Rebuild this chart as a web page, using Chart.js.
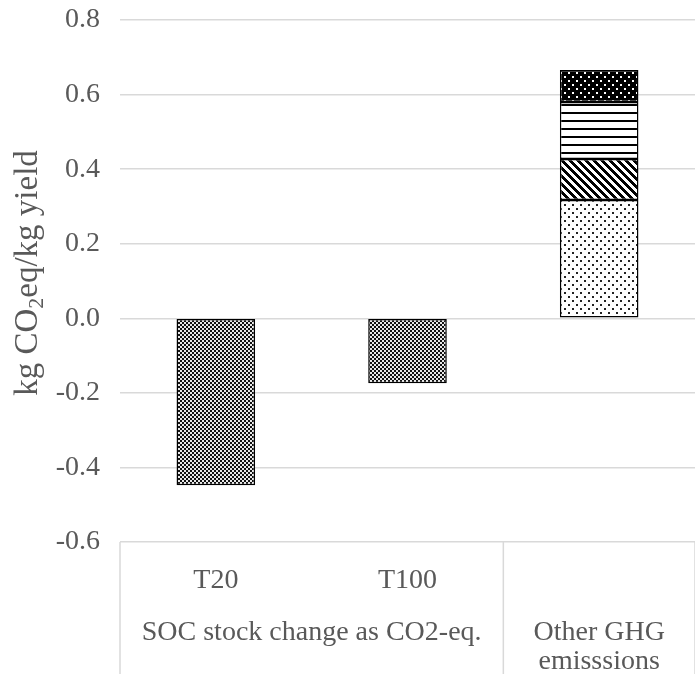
<!DOCTYPE html>
<html>
<head>
<meta charset="utf-8">
<script src="https://cdn.jsdelivr.net/npm/chart.js@4/dist/chart.umd.min.js"></script>
<style>
  html, body { margin: 0; padding: 0; background: #ffffff; }
  #wrap { width: 695px; height: 674px; position: relative; }
</style>
</head>
<body>
<div id="wrap"><canvas id="c"></canvas></div>
<script>
// Category labels (first level) and group labels (second level)
const categories = ['T20', 'T100', ''];
const groupSOC = 'SOC stock change as CO2-eq.';
const groupOther = ['Other GHG', 'emisssions'];

// SOC stock change expressed as CO2-eq (kg CO2eq / kg yield)
const socChange = [-0.448, -0.174, null];

// Other GHG emissions, stacked components
const otherPart1 = [null, null, 0.317];
const otherPart2 = [null, null, 0.110];
const otherPart3 = [null, null, 0.153];
const otherPart4 = [null, null, 0.086];

// Y axis range
const yMin = -0.6, yMax = 0.8, yStep = 0.2;

const TEXT = '#595959';
const GRID = '#d9d9d9';
const FONT = "'Liberation Serif', 'Times New Roman', serif";
const FS = 28;

function makePattern(size, draw) {
  const c = document.createElement('canvas');
  c.width = size; c.height = size;
  const g = c.getContext('2d');
  draw(g, size);
  return g.createPattern(c, 'repeat');
}
const checker = makePattern(4, (g) => {
  g.fillStyle = '#e8e8e8'; g.fillRect(0, 0, 4, 4);
  g.fillStyle = '#111'; g.fillRect(0, 0, 2, 2); g.fillRect(2, 2, 2, 2);
});
const dots = makePattern(8, (g) => {
  g.fillStyle = '#fff'; g.fillRect(0, 0, 8, 8);
  g.fillStyle = '#222'; g.fillRect(0, 0, 2, 2); g.fillRect(4, 4, 2, 2);
});
const diag = makePattern(8, (g, s) => {
  g.fillStyle = '#fff'; g.fillRect(0, 0, s, s);
  g.fillStyle = '#000';
  for (let x = 0; x < s; x++) for (let y = 0; y < s; y++) {
    if (((x - y + s) % s) < 4) g.fillRect(x, y, 1, 1);
  }
});
const hlines = makePattern(8, (g) => {
  g.fillStyle = '#fff'; g.fillRect(0, 0, 8, 8);
  g.fillStyle = '#000'; g.fillRect(0, 0, 8, 2);
});
const darkDots = makePattern(8, (g) => {
  g.fillStyle = '#000'; g.fillRect(0, 0, 8, 8);
  g.fillStyle = '#fff'; g.fillRect(0, 0, 2, 2); g.fillRect(4, 4, 2, 2);
});

function bar(data, fill) {
  return {
    data: data,
    backgroundColor: fill,
    borderColor: '#000',
    borderWidth: 1.5,
    borderSkipped: false,
    barPercentage: 0.41,
    categoryPercentage: 1.0,
    stack: 's'
  };
}

// Axis title with subscript, group labels and the category box lines
const decorations = {
  id: 'decorations',
  afterDraw(chart) {
    const ctx = chart.ctx;
    const area = chart.chartArea;
    const x = chart.scales.x;
    const H = chart.height;
    ctx.save();

    // category box
    ctx.strokeStyle = GRID;
    ctx.lineWidth = 1.5;
    const sep = (x.getPixelForTick(1) + x.getPixelForTick(2)) / 2;
    ctx.beginPath();
    ctx.moveTo(area.left, area.bottom); ctx.lineTo(area.left, H);
    ctx.moveTo(sep, area.bottom); ctx.lineTo(sep, H);
    ctx.moveTo(area.right, area.bottom); ctx.lineTo(area.right, H);
    ctx.stroke();

    // second-level labels
    ctx.fillStyle = TEXT;
    ctx.font = FS + 'px ' + FONT;
    ctx.textAlign = 'center';
    ctx.textBaseline = 'middle';
    const mid01 = (x.getPixelForTick(0) + x.getPixelForTick(1)) / 2;
    ctx.fillText(groupSOC, mid01, 633);
    ctx.fillText(groupOther[0], x.getPixelForTick(2), 633);
    ctx.fillText(groupOther[1], x.getPixelForTick(2), 662);

    // rotated y title: kg CO2eq/kg yield
    const cy = (area.top + area.bottom) / 2 - 8;
    ctx.translate(27, cy);
    ctx.rotate(-Math.PI / 2);
    const big = 33, small = 22;
    const p1 = 'kg CO', p2 = '2', p3 = 'eq/kg yield';
    ctx.font = big + 'px ' + FONT;
    const w1 = ctx.measureText(p1).width;
    const w3 = ctx.measureText(p3).width;
    ctx.font = small + 'px ' + FONT;
    const w2 = ctx.measureText(p2).width;
    let sx = -(w1 + w2 + w3) / 2;
    ctx.textAlign = 'left';
    ctx.textBaseline = 'alphabetic';
    ctx.font = big + 'px ' + FONT;
    ctx.fillText(p1, sx, 10);
    sx += w1;
    ctx.font = small + 'px ' + FONT;
    ctx.fillText(p2, sx, 16);
    sx += w2;
    ctx.font = big + 'px ' + FONT;
    ctx.fillText(p3, sx, 10);
    ctx.restore();
  }
};

new Chart(document.getElementById('c'), {
  type: 'bar',
  data: {
    labels: categories,
    datasets: [
      bar(socChange, checker),
      bar(otherPart1, dots),
      bar(otherPart2, diag),
      bar(otherPart3, hlines),
      bar(otherPart4, darkDots)
    ]
  },
  options: {
    responsive: true,
    maintainAspectRatio: false,
    animation: false,
    layout: { padding: { top: 20, right: -5, bottom: 0, left: 0 } },
    plugins: { legend: { display: false }, tooltip: { enabled: false } },
    scales: {
      x: {
        stacked: true,
        grid: { display: false },
        border: { display: false },
        ticks: {
          color: TEXT,
          font: { family: FONT, size: FS },
          padding: 14,
          maxRotation: 0,
          autoSkip: false
        },
        afterFit(scale) { scale.height = 132; }
      },
      y: {
        stacked: true,
        min: yMin,
        max: yMax,
        grid: { color: GRID, lineWidth: 1.5, drawTicks: false },
        border: { display: false },
        ticks: {
          stepSize: yStep,
          color: TEXT,
          font: { family: FONT, size: FS },
          padding: 20,
          callback: (v) => Number(v).toFixed(1)
        },
        afterFit(scale) {
          scale.width = 120;
          scale.paddingTop = 0;
          scale.paddingBottom = 0;
        }
      }
    }
  },
  plugins: [decorations]
});
</script>
</body>
</html>
